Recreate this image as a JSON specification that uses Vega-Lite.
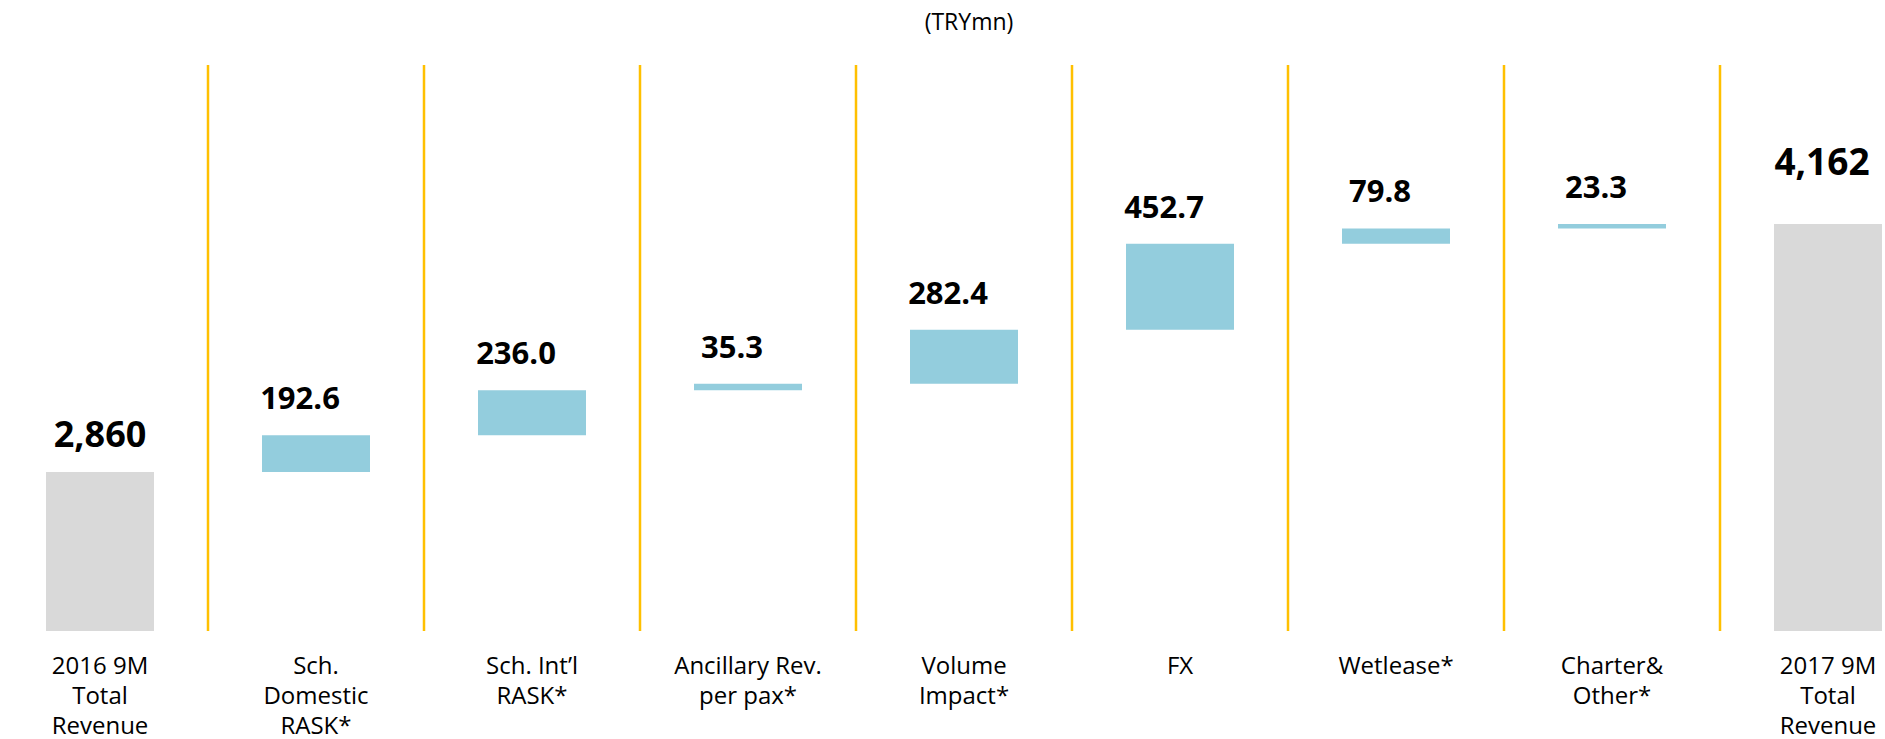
{
  "$schema": "https://vega.github.io/schema/vega-lite/v6.json",
  "width": 1836,
  "height": 566,
  "autosize": {"type": "none"},
  "padding": {"left": 46, "top": 65, "right": 3, "bottom": 108},
  "background": "white",
  "title": {
    "text": "(TRYmn)",
    "font": "Open Sans",
    "fontSize": 23,
    "fontWeight": "normal",
    "color": "#000000",
    "anchor": "middle",
    "frame": "group",
    "baseline": "alphabetic",
    "offset": 11,
    "dx": 5
  },
  "data": {
    "values": [
      {"label": "2016 9M\nTotal\nRevenue", "kind": "start", "start": null, "end": 2860, "amount": 2860},
      {"label": "Sch.\nDomestic\nRASK*", "kind": "delta", "start": 2860, "end": 3052.6, "amount": 192.6},
      {"label": "Sch. Int’l\nRASK*", "kind": "delta", "start": 3052.6, "end": 3288.6, "amount": 236.0},
      {"label": "Ancillary Rev.\nper pax*", "kind": "delta", "start": 3288.6, "end": 3323.9, "amount": 35.3},
      {"label": "Volume\nImpact*", "kind": "delta", "start": 3323.9, "end": 3606.3, "amount": 282.4},
      {"label": "FX", "kind": "delta", "start": 3606.3, "end": 4059.0, "amount": 452.7},
      {"label": "Wetlease*", "kind": "delta", "start": 4059.0, "end": 4138.8, "amount": 79.8},
      {"label": "Charter&\nOther*", "kind": "delta", "start": 4138.8, "end": 4162.1, "amount": 23.3},
      {"label": "2017 9M\nTotal\nRevenue", "kind": "end", "start": null, "end": 4162, "amount": 4162}
    ]
  },
  "encoding": {
    "x": {
      "field": "label",
      "type": "nominal",
      "sort": null,
      "scale": {"paddingInner": 0.5, "paddingOuter": 0},
      "axis": {
        "title": null,
        "labelAngle": 0,
        "domain": false,
        "ticks": false,
        "tickSize": 0,
        "grid": false,
        "labelFont": "Open Sans",
        "labelFontSize": 24,
        "labelColor": "#000000",
        "labelLineHeight": 30,
        "labelBaseline": "middle",
        "labelPadding": 35,
        "labelLimit": 0,
        "labelOverlap": false,
        "labelExpr": "split(datum.value, '\\n')"
      }
    }
  },
  "layer": [
    {
      "transform": [{"filter": "datum.kind != 'end'"}],
      "mark": {"type": "rule", "color": "#FFC000", "strokeWidth": 2.5},
      "encoding": {
        "x": {"field": "label", "type": "nominal", "sort": null, "bandPosition": 1.5}
      }
    },
    {
      "transform": [{"filter": "datum.kind != 'delta'"}],
      "mark": {"type": "bar", "color": "#D9D9D9"},
      "encoding": {
        "y": {
          "field": "end",
          "type": "quantitative",
          "scale": {"domain": [2025, 4997], "zero": false, "clamp": true, "nice": false},
          "axis": null
        }
      }
    },
    {
      "transform": [{"filter": "datum.kind == 'delta'"}],
      "mark": {"type": "bar", "color": "#93CDDD"},
      "encoding": {
        "y": {"field": "end", "type": "quantitative"},
        "y2": {"field": "start"}
      }
    },
    {
      "transform": [{"filter": "datum.kind == 'delta'"}],
      "mark": {"type": "text", "font": "Open Sans", "fontSize": 31, "fontWeight": "bold", "color": "#000000", "baseline": "alphabetic", "dy": -26, "dx": -16},
      "encoding": {
        "y": {"field": "end", "type": "quantitative"},
        "text": {"field": "amount", "type": "quantitative", "format": ".1f"}
      }
    },
    {
      "transform": [{"filter": "datum.kind == 'start'"}],
      "mark": {"type": "text", "font": "Open Sans", "fontSize": 36, "fontWeight": "bold", "color": "#000000", "baseline": "alphabetic", "dy": -25},
      "encoding": {
        "y": {"field": "end", "type": "quantitative"},
        "text": {"field": "amount", "type": "quantitative", "format": ",.0f"}
      }
    },
    {
      "transform": [{"filter": "datum.kind == 'end'"}],
      "mark": {"type": "text", "font": "Open Sans", "fontSize": 37, "fontWeight": "bold", "color": "#000000", "baseline": "alphabetic", "dy": -49, "dx": -6},
      "encoding": {
        "y": {"field": "end", "type": "quantitative"},
        "text": {"field": "amount", "type": "quantitative", "format": ",.0f"}
      }
    }
  ],
  "config": {
    "view": {"stroke": null}
  }
}
